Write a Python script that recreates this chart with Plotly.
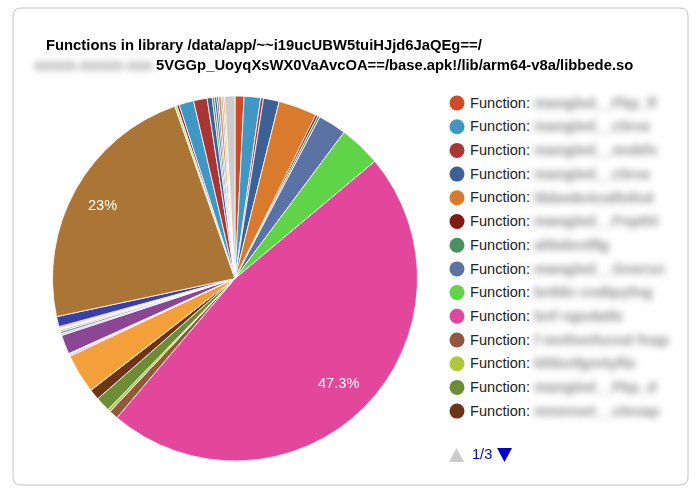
import plotly.graph_objects as go

# slices clockwise from 12 o'clock, percent
slice_names = ["a1", "a2", "a3", "a4", "a5", "a6", "a7", "a8", "a9", "a10", "a11", "a12", "a13", "a14",
               "b1", "b2", "b3", "b4", "b5", "b6", "b7", "b8", "b9", "b10",
               "c1", "c2", "c3", "c4", "c5", "c6", "c7", "c8", "c9", "c10", "c11", "c12", "c13"]
slice_values = [0.8, 1.45, 0.25, 1.4, 3.4, 0.2, 0.2, 2.5, 3.7, 47.3, 0.8, 0.25, 1.3, 0.95,
                3.5, 0.15, 0.1, 1.7, 0.15, 0.2, 0.15, 0.15, 0.15, 0.9,
                23.0, 0.2, 0.2, 1.3, 1.2, 0.45, 0.2, 0.2, 0.15, 0.25, 0.15, 0.15, 0.9]
slice_colors = ["#cf4a26", "#3f97c4", "#a93535", "#3b6196", "#da7a2c", "#7f1b12", "#4c8f63", "#5a72a4",
                "#5fd448", "#e2479b", "#91583c", "#b1c73b", "#6c8d33", "#6a3617",
                "#f3a03b", "#c9a6d8", "#f2f0f5", "#8b4695", "#c4b6dc", "#7c8fd0", "#f3a03b", "#f2f0f5", "#c9a6d8", "#3a3fae",
                "#ab7535", "#b5dc8c", "#7f1b12", "#3f97c4", "#a93535", "#3b6196", "#4c8f63", "#3b6196",
                "#3a3fae", "#da9a3c", "#7c8fd0", "#f3a03b", "#cccccc"]

legend_colors = slice_colors[:14]
legend_names = ["mangled__Fkp_fl", "mangled__cleva", "mangled__mobfs", "mangled__cleva",
                "libbedeAndfnfnd", "mangled__Fnpthl", "alibdevtflg", "mangled__Gnersn",
                "bnfdn cndtpyfng", "bnf ngsdatle", "f mnfnmfscnd fnap", "bfdsnfgnrtyfla",
                "mangled__Fkp_d", "mnenset__clevap"]

title_lines = ["Functions in library /data/app/~~i19ucUBW5tuiHJjd6JaQEg==/",
               "5VGGp_UoyqXsWX0VaAvcOA==/base.apk!/lib/arm64-v8a/libbede.so"]
title_hidden = "xxxxx-xxxxx-xxx"
page_label = "1/3"

row_top = 103
row_step = 23.7
legend_rows = [row_top + i * row_step for i in range(len(legend_names))]
text_rows = [r + 1 for r in legend_rows]

fig = go.Figure()

fig.add_trace(go.Pie(
    labels=slice_names,
    values=slice_values,
    sort=False,
    direction="clockwise",
    rotation=0,
    textinfo="none",
    marker=dict(colors=slice_colors, line=dict(color="white", width=0.8)),
    domain=dict(x=[52 / 700, 418 / 700], y=[1 - 461 / 496, 1 - 96 / 496]),
    showlegend=False,
))

# legend drawn by hand, plotly has no paged legend with round swatches
fig.add_trace(go.Scatter(
    x=[457] * len(legend_rows),
    y=legend_rows,
    mode="markers",
    marker=dict(size=15, color=legend_colors),
    showlegend=False,
    hoverinfo="skip",
))
fig.add_trace(go.Scatter(
    x=[470] * len(text_rows),
    y=text_rows,
    mode="text",
    text=["Function:"] * len(text_rows),
    textposition="middle right",
    textfont=dict(size=14.6, color="#222222", family="Liberation Sans"),
    showlegend=False,
    hoverinfo="skip",
))
# names are blurred in the reference, this trace gets a css blur below
fig.add_trace(go.Scatter(
    x=[534] * len(text_rows) + [34],
    y=text_rows + [66],
    mode="text",
    text=["<b>" + n + "</b>" for n in legend_names + [title_hidden]],
    textposition="middle right",
    textfont=dict(size=15, color="#888888", family="Liberation Sans"),
    showlegend=False,
    hoverinfo="skip",
))

annotations = [
    dict(x=44, y=45, text="<b>" + title_lines[0] + "</b>", xanchor="left"),
    dict(x=154, y=65, text="<b>" + title_lines[1] + "</b>", xanchor="left"),
    dict(x=470, y=454, text=page_label, xanchor="left", font=dict(size=14.6, color="#0000cc")),
    dict(x=102, y=205, text=f"{slice_values[24]:g}%", font=dict(size=14.6, color="white")),
    dict(x=338, y=383, text=f"{slice_values[9]:g}%", font=dict(size=14.6, color="white")),
]
for a in annotations:
    a.update(xref="x", yref="y", showarrow=False)
    a.setdefault("font", dict(size=14.8, color="black"))

card = "M 21 8 L 680 8 Q 688 8 688 16 L 688 477 Q 688 485 680 485 L 21 485 Q 13 485 13 477 L 13 16 Q 13 8 21 8 Z"

fig.update_layout(
    width=700,
    height=496,
    margin=dict(l=0, r=0, t=0, b=0),
    paper_bgcolor="white",
    plot_bgcolor="rgba(0,0,0,0)",
    font=dict(family="Liberation Sans"),
    xaxis=dict(range=[0, 700], visible=False, fixedrange=True),
    yaxis=dict(range=[496, 0], visible=False, fixedrange=True),
    annotations=annotations,
    shapes=[
        dict(type="path", xref="x", yref="y", path=card, line=dict(color="#c4c4c4", width=1), layer="below"),
        # pager arrows
        dict(type="path", xref="x", yref="y", path="M 449 462 L 464 462 L 456.5 448 Z",
             fillcolor="#cccccc", line=dict(width=0)),
        dict(type="path", xref="x", yref="y", path="M 497 448 L 512 448 L 504.5 462 Z",
             fillcolor="#0000cc", line=dict(width=0)),
    ],
)

blur_js = """
document.body.style.margin = '0';
var gd = document.getElementById('{plot_id}');
var traces = gd.querySelectorAll('.scatterlayer .trace');
traces[2].style.filter = 'blur(3.5px)';
"""

fig.write_html("out.html", post_script=blur_js, config=dict(displayModeBar=False))
